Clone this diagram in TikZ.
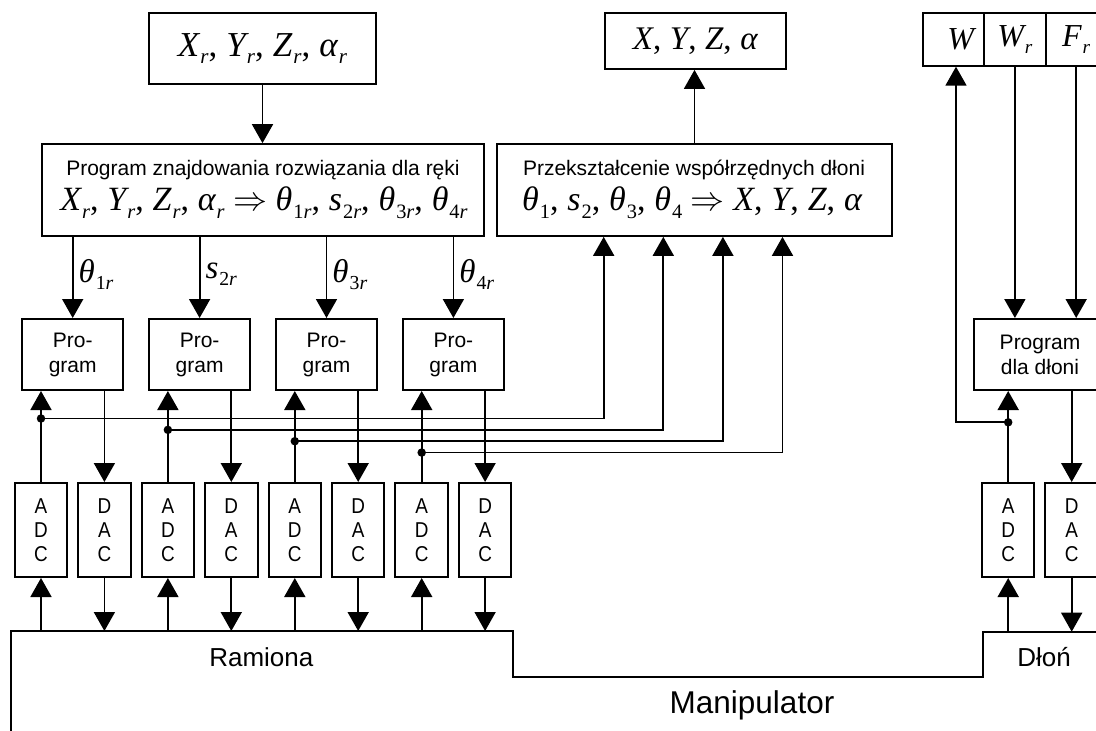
\documentclass[tikz,border=0pt]{standalone}
\usepackage{fix-cm}
\usepackage{fontspec}
\setmainfont{Liberation Sans}
\newfontfamily\tms{Liberation Serif}
\newfontfamily\narrowsans[FakeStretch=0.88]{Liberation Sans}
\usetikzlibrary{arrows.meta}
\makeatletter
\newdimen\subsz
% lowered, reduced subscript in the style of an equation editor
\newcommand\lowr[1]{\subsz=\f@size pt\relax\subsz=0.6\subsz\kern0.03em\raisebox{-0.22em}{\fontsize{\subsz}{\subsz}\selectfont#1}}
\makeatother
\newcommand\cm{{\upshape,}\kern0.26em}
\newcommand\eqfont[1]{\fontsize{#1}{#1}\selectfont\tms\itshape}
\newcommand\impl{\kern0.25em{\upshape$\Rightarrow$}\kern0.25em}

\tikzset{
  box/.style={draw, line width=2pt, inner sep=0pt},
  arr/.style={line width=1.8pt, -{Triangle[width=21pt,length=19pt]}},
  wire/.style={line width=2pt},
  lbl/.style={font=\fontsize{21}{25}\selectfont, align=center},
  conv/.style={box, minimum width=52.5pt, minimum height=94pt,
    font=\narrowsans\fontsize{21.5}{24}\selectfont, align=center},
  jdot/.style={circle, fill, inner sep=0pt, minimum size=8.5pt},
  sig/.style={font=\eqfont{33}, inner sep=2pt},
}

\begin{document}
\begin{tikzpicture}[x=1pt, y=-1pt]
\useasboundingbox (0,0) rectangle (1096,731);
\clip (0,0) rectangle (1096,731);

% ---- top row: set points and measured values
\node[box, minimum width=227pt, minimum height=71pt] (xr) at (262.5,48.4)
  {\eqfont{35}X\lowr{r}\cm Y\lowr{r}\cm Z\lowr{r}\cm α\lowr{r}};
\node[box, minimum width=181pt, minimum height=56pt] (xyz) at (695.3,40.9)
  {\eqfont{33}X\cm Y\cm Z\cm α};
\node[box, minimum width=61.3pt, minimum height=53pt] (w) at (953.6,39.2)
  {\eqfont{32}\kern14pt W};
\node[box, minimum width=61.3pt, minimum height=53pt] (wr) at (1014.9,39.2)
  {\eqfont{32}W\lowr{r}};
\node[box, minimum width=61.3pt, minimum height=53pt] (fr) at (1076.2,39.2)
  {\eqfont{32}F\lowr{r}};

% ---- inverse and forward kinematics
\node[box, minimum width=442pt, minimum height=91.7pt] (prog) at (263,190) {};
\node[lbl, anchor=base] (progA) at (263,175) {Program znajdowania rozwiązania dla ręki};
\node[anchor=base, inner sep=0pt] (progB) at (264,210.7)
  {\eqfont{34}X\lowr{r}\cm Y\lowr{r}\cm Z\lowr{r}\cm α\lowr{r}\impl
   θ\lowr{\upshape1\itshape r}\cm s\lowr{\upshape2\itshape r}\cm
   θ\lowr{\upshape3\itshape r}\cm θ\lowr{\upshape4\itshape r}};

\node[box, minimum width=395pt, minimum height=91.7pt] (trans) at (694.5,190) {};
\node[lbl, anchor=base] (transA) at (694,175) {Przekształcenie współrzędnych dłoni};
\node[anchor=base, inner sep=0pt] (transB) at (692,210.7)
  {\eqfont{34}θ\lowr{\upshape1}\cm s\lowr{\upshape2}\cm θ\lowr{\upshape3}\cm
   θ\lowr{\upshape4}\impl X\cm Y\cm Z\cm α};

\draw[arr] (xr.south) -- (xr.south |- prog.north);
\draw[arr] (trans.north) -- (trans.north |- xyz.south);

% ---- joint channels: program, ADC, DAC
\foreach \i/\lab in {1/{θ\lowr{\upshape1\itshape r}}, 2/{s\lowr{\upshape2\itshape r}},
                     3/{θ\lowr{\upshape3\itshape r}}, 4/{θ\lowr{\upshape4\itshape r}}}{
  \pgfmathsetmacro\xa{41+126.9*(\i-1)}
  \pgfmathsetmacro\xd{104.4+126.9*(\i-1)}
  \pgfmathsetmacro\xp{72.7+126.9*(\i-1)}
  \pgfmathsetmacro\yj{63.5-11.35*(\i-1)}
  \pgfmathsetmacro\xt{107.7+59.6*(\i-1)}
  \node[box, lbl, minimum width=101.4pt, minimum height=71pt] (p\i) at (\xp,354.5) {Pro-\\gram};
  \node[conv] (adc\i) at (\xa,530) {A\\D\\C};
  \node[conv] (dac\i) at (\xd,530) {D\\A\\C};
  \draw[arr] (p\i.north |- prog.south) -- (p\i.north)
    node[midway, right, sig, xshift=3pt, yshift=3pt] {\lab};
  \draw[arr] (adc\i.north) -- (adc\i.north |- p\i.south);
  \draw[arr] (dac\i.north |- p\i.south) -- (dac\i.north);
  \coordinate (j\i) at ([yshift=\yj pt]adc\i.north);
  \coordinate (t\i) at ([xshift=\xt pt]trans.south west);
  \node[jdot] (jd\i) at (j\i) {};
  \draw[arr] (j\i) -| (t\i);
}

% ---- gripper channel
\node[box, lbl, minimum width=132pt, minimum height=71pt] (pd) at (1040,354.5) {Program\\dla dłoni};
\node[conv] (adcR) at (1008.2,530) {A\\D\\C};
\node[conv] (dacR) at (1071.7,530) {D\\A\\C};
\draw[arr] (wr.south) -- (wr.south |- pd.north);
\draw[arr] (fr.south) -- (fr.south |- pd.north);
\draw[arr] (adcR.north) -- (adcR.north |- pd.south);
\draw[arr] (dacR.north |- pd.south) -- (dacR.north);
\coordinate (jR) at ([yshift=59.7pt]adcR.north);
\coordinate (wtip) at ([xshift=2.4pt]w.south);
\node[jdot] (jdR) at (jR) {};
\draw[arr] (jR) -| (wtip);

% ---- manipulator outline: arms and gripper
\coordinate (ramtop) at (10.5,631);
\coordinate (dlontop) at (983.4,631.7);
\draw[wire] (10.5,740) -- (ramtop) -- (512.8,631) -- (512.8,676.7)
  -- (983.4,676.7) -- (dlontop) -- (1110,631.7);
\foreach \i in {1,...,4}{
  \draw[arr] (adc\i.south |- ramtop) -- (adc\i.south);
  \draw[arr] (dac\i.south) -- (dac\i.south |- ramtop);
}
\draw[arr] (adcR.south |- dlontop) -- (adcR.south);
\draw[arr] (dacR.south) -- (dacR.south |- dlontop);

\node[font=\fontsize{26}{30}\selectfont] (ram) at (261.3,657) {Ramiona};
\node[font=\fontsize{26}{30}\selectfont] (dlon) at (1044,657) {Dłoń};
\node[font=\fontsize{31.5}{36}\selectfont] (manip) at (752,705) {Manipulator};
\end{tikzpicture}
\end{document}
